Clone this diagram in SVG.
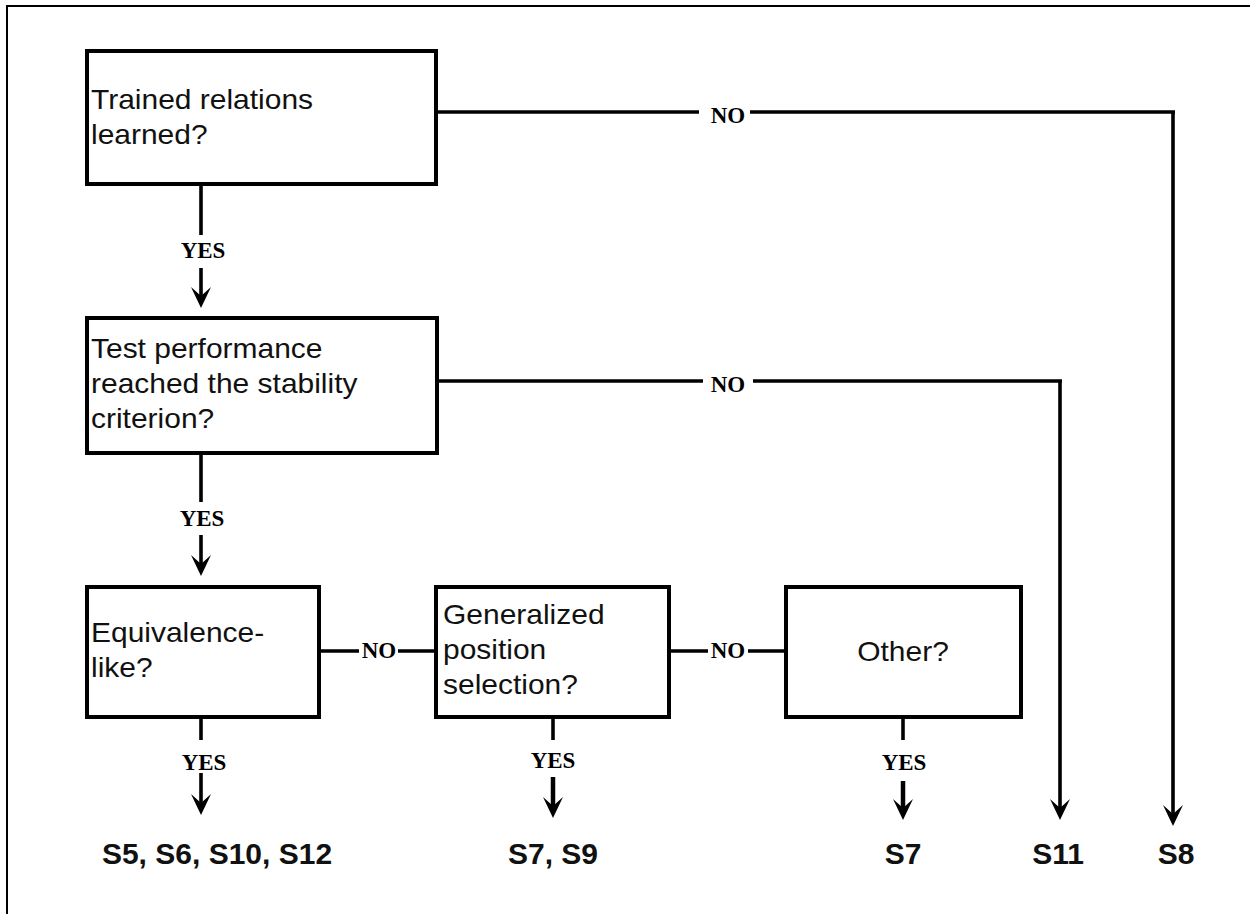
<svg xmlns="http://www.w3.org/2000/svg" width="1250" height="914" viewBox="0 0 1250 914">
<style>
.frame{fill:none;stroke:#000;stroke-width:2}
.box{fill:#fff;stroke:#000;stroke-width:4}
.ln{fill:none;stroke:#000;stroke-width:3.6}
.ah{fill:#000;stroke:none}
.t{font-family:"Liberation Sans",Arial,sans-serif;font-size:27px;fill:#111}
.res{font-family:"Liberation Sans",Arial,sans-serif;font-size:30px;font-weight:bold;fill:#111;text-anchor:middle}
.lbl{font-family:"Liberation Serif","Times New Roman",serif;font-size:23px;font-weight:bold;fill:#000;text-anchor:middle}
</style>
<defs>
<path id="arrow" class="ah" d="M0,0 L-10,-21 L0,-12 L10,-21 Z"/>
</defs>
<path class="frame" d="M7,914 V6 H1250"/>

<g id="connectors">
  <path class="ln" d="M201,185 V235"/>
  <path class="ln" d="M201,268 V296"/>
  <use href="#arrow" x="201" y="308"/>
  <text class="lbl" x="203" y="258">YES</text>
  <path class="ln" d="M436,112 H699"/>
  <path class="ln" d="M750,112 H1175 M1173,112 V814"/>
  <use href="#arrow" x="1173" y="826"/>
  <text class="lbl" x="728" y="123">NO</text>
  <path class="ln" d="M201,453 V502"/>
  <path class="ln" d="M201,535 V564"/>
  <use href="#arrow" x="201" y="576"/>
  <text class="lbl" x="202" y="526">YES</text>
  <path class="ln" d="M437,381 H703"/>
  <path class="ln" d="M753,381 H1062 M1060,381 V808"/>
  <use href="#arrow" x="1060" y="820"/>
  <text class="lbl" x="728" y="392">NO</text>
  <path class="ln" d="M319,651 H359 M398,651 H436"/>
  <text class="lbl" x="379" y="658">NO</text>
  <path class="ln" d="M669,651 H708 M748,651 H786"/>
  <text class="lbl" x="728" y="658">NO</text>
  <path class="ln" d="M201,717 V740 M201,773 V803"/>
  <use href="#arrow" x="201" y="815"/>
  <text class="lbl" x="204" y="770">YES</text>
  <path class="ln" d="M553,717 V740"/>
  <path class="ln" style="stroke-width:4.5" d="M553,777 V806"/>
  <use href="#arrow" x="553" y="818"/>
  <text class="lbl" x="553" y="768">YES</text>
  <path class="ln" d="M903,717 V740"/>
  <path class="ln" style="stroke-width:4.5" d="M903,781 V808"/>
  <use href="#arrow" x="903" y="820"/>
  <text class="lbl" x="904" y="770">YES</text>
</g>

<g id="n-trained">
  <rect class="box" x="87" y="51" width="349" height="133"/>
  <text class="t" transform="translate(91,109) scale(1.11,1)">Trained relations</text>
  <text class="t" transform="translate(91,144) scale(1.11,1)">learned?</text>
</g>
<g id="n-test">
  <rect class="box" x="87" y="318" width="350" height="135"/>
  <text class="t" transform="translate(91,358) scale(1.11,1)">Test performance</text>
  <text class="t" transform="translate(91,393) scale(1.11,1)">reached the stability</text>
  <text class="t" transform="translate(91,428) scale(1.11,1)">criterion?</text>
</g>
<g id="n-equiv">
  <rect class="box" x="87" y="587" width="232" height="130"/>
  <text class="t" transform="translate(91,642) scale(1.11,1)">Equivalence-</text>
  <text class="t" transform="translate(91,677) scale(1.11,1)">like?</text>
</g>
<g id="n-general">
  <rect class="box" x="436" y="587" width="233" height="130"/>
  <text class="t" transform="translate(443,624) scale(1.11,1)">Generalized</text>
  <text class="t" transform="translate(443,659) scale(1.11,1)">position</text>
  <text class="t" transform="translate(443,694) scale(1.11,1)">selection?</text>
</g>
<g id="n-other">
  <rect class="box" x="786" y="587" width="235" height="130"/>
  <text class="t" text-anchor="middle" transform="translate(903,661) scale(1.11,1)">Other?</text>
</g>
<g id="r-equiv"><text class="res" x="217" y="864">S5, S6, S10, S12</text></g>
<g id="r-general"><text class="res" x="553" y="864">S7, S9</text></g>
<g id="r-other"><text class="res" x="903" y="864">S7</text></g>
<g id="r-s11"><text class="res" x="1058" y="864">S11</text></g>
<g id="r-s8"><text class="res" x="1176" y="864">S8</text></g>
</svg>
